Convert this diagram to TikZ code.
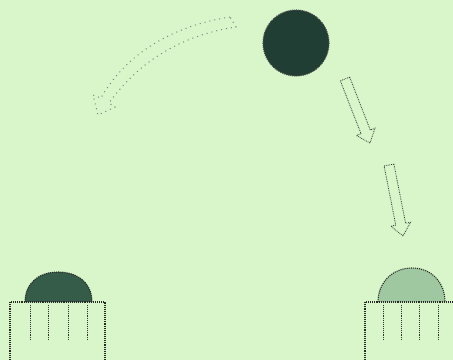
\documentclass[tikz,border=0pt]{standalone}
\usetikzlibrary{calc}
\definecolor{bg}{RGB}{216,246,202}
\definecolor{sun}{RGB}{32,62,52}
\definecolor{domedark}{RGB}{52,92,72}
\definecolor{domelight}{RGB}{160,200,160}
\tikzset{
  outline/.style={densely dotted, line width=1.1pt, black!85},
  sensor/.style={densely dotted, line width=0.9pt, black!80},
  beam/.style={densely dotted, line width=0.8pt, black!80},
  faintbeam/.style={loosely dotted, line width=1pt, black!50},
}
% hollow arrow from #1 to #2 : shaft half width #3, head half width #4, head length #5, style #6
\newcommand\hollowarr[6]{%
  \coordinate (ha) at #1;
  \coordinate (hb) at #2;
  \coordinate (hh) at ($(hb)!#5!(ha)$);
  \draw[#6] ($(ha)!#3!90:(hb)$) -- ($(hh)!#3!90:(hb)$) -- ($(hh)!#4!90:(hb)$) -- (hb)
     -- ($(hh)!#4!-90:(hb)$) -- ($(hh)!#3!-90:(hb)$) -- ($(ha)!#3!-90:(hb)$) -- cycle;
}
\begin{document}
\begin{tikzpicture}[x=1pt,y=-1pt]
\fill[bg] (0,0) rectangle (453,360);
\useasboundingbox (0,0) rectangle (453,360);

% sun
\fill[sun] (296,43) circle (33);
\draw[outline, black!70] (296,43) circle (33);

% beams
\hollowarr{(345,79)}{(370,143)}{5pt}{10pt}{12pt}{beam}
\hollowarr{(389,165)}{(403,236)}{5pt}{10pt}{12pt}{beam}

% faint curved beam towards the left sensor
\draw[faintbeam] (230,17) .. controls (178,25) and (128,50) .. (101,98)
  -- (93,95) -- (98,115) -- (115,107) -- (109,103)
  .. controls (140,60) and (183,35) .. (236,27) -- cycle;

% left sensor
\fill[domedark] (25,302) .. controls (25,284) and (38,272) .. (58,272)
   .. controls (79,272) and (92,284) .. (92,302) -- cycle;
\draw[outline] (25,302) .. controls (25,284) and (38,272) .. (58,272)
   .. controls (79,272) and (92,284) .. (92,302);
\draw[outline] (10,362) -- (10,302) -- (105,302) -- (105,362);
\foreach \x in {30,48,68,87} \draw[sensor] (\x,305) -- (\x,340);

% right sensor
\fill[domelight] (378,302) .. controls (378,283) and (392,268) .. (412,268)
   .. controls (432,268) and (445,283) .. (445,302) -- cycle;
\draw[outline] (378,302) .. controls (378,283) and (392,268) .. (412,268)
   .. controls (432,268) and (445,283) .. (445,302);
\draw[outline] (365,362) -- (365,302) -- (455,302);
\foreach \x in {383,401,419,438} \draw[sensor] (\x,305) -- (\x,340);
\end{tikzpicture}
\end{document}
